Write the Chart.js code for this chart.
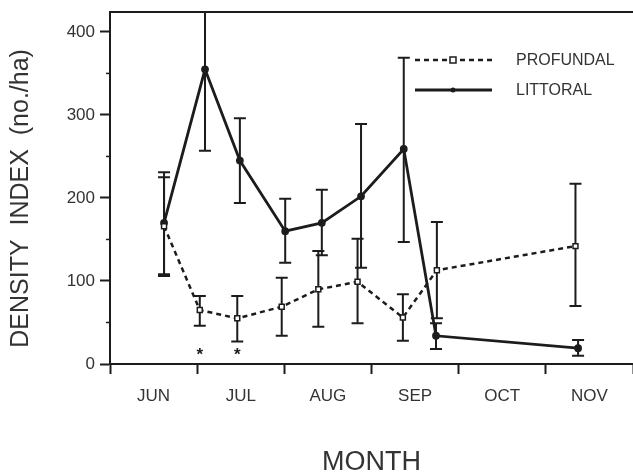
<!DOCTYPE html>
<html>
<head>
<meta charset="utf-8">
<style>
  html, body { margin: 0; padding: 0; background: #fff; overflow: hidden; }
  canvas { display: block; }
</style>
</head>
<body>
<canvas id="densityChart" width="633" height="473"></canvas>
<script src="https://cdn.jsdelivr.net/npm/chart.js@4/dist/chart.umd.min.js"></script>
<script>
// month bands on the x axis (x = months since 1 June)
var months = ['JUN', 'JUL', 'AUG', 'SEP', 'OCT', 'NOV'];
var yMajor = [0, 100, 200, 300, 400];
var yMinor = [50, 150, 250, 350];

// PROFUNDAL
var profX  = [0.62, 1.03, 1.46, 1.97, 2.39, 2.84, 3.36, 3.75, 5.34];
var profY  = [166, 65, 55, 69, 90, 99, 56, 113, 142];
var profLo = [106, 46, 27, 34, 45, 49, 28, 55, 70];
var profHi = [225, 82, 82, 104, 136, 151, 84, 171, 217];

// LITTORAL
var litX  = [0.62, 1.09, 1.49, 2.01, 2.43, 2.88, 3.37, 3.74, 5.37];
var litY  = [170, 355, 245, 160, 170, 202, 259, 34, 19];
var litLo = [108, 257, 194, 122, 131, 116, 147, 18, 10];
var litHi = [231, 453, 296, 199, 210, 289, 369, 49, 29];

// samples marked with * (significant difference)
var starred = [false, true, true, false, false, false, false, false, false];

var ink = '#1c1c1c';
var textCol = '#333';
var fontFam = '"Liberation Sans", Arial, sans-serif';

function points(xs, ys) {
    return xs.map(function (x, i) { return { x: x, y: ys[i] }; });
}

var extras = {
    id: 'extras',
    beforeDatasetsDraw: function (chart) {
        var ctx = chart.ctx, a = chart.chartArea;
        var xs = chart.scales.x, ys = chart.scales.y;
        ctx.save();
        // top frame line
        ctx.strokeStyle = ink;
        ctx.lineWidth = 2;
        ctx.beginPath();
        ctx.moveTo(a.left, a.top);
        ctx.lineTo(a.right, a.top);
        ctx.stroke();
        // minor y ticks
        ctx.lineWidth = 1.5;
        yMinor.forEach(function (v) {
            var y = ys.getPixelForValue(v);
            ctx.beginPath();
            ctx.moveTo(a.left - 4, y);
            ctx.lineTo(a.left, y);
            ctx.stroke();
        });
        // error bars
        ctx.beginPath();
        ctx.rect(a.left, a.top, a.right - a.left, a.bottom - a.top);
        ctx.clip();
        ctx.lineWidth = 2;
        chart.data.datasets.forEach(function (ds) {
            ds.errLo.forEach(function (lo, i) {
                var x = xs.getPixelForValue(ds.data[i].x);
                var y1 = ys.getPixelForValue(lo);
                var y2 = ys.getPixelForValue(ds.errHi[i]);
                ctx.beginPath();
                ctx.moveTo(x, y1); ctx.lineTo(x, y2);
                ctx.moveTo(x - 6, y1); ctx.lineTo(x + 6, y1);
                ctx.moveTo(x - 6, y2); ctx.lineTo(x + 6, y2);
                ctx.stroke();
            });
        });
        ctx.restore();
    },
    afterDatasetsDraw: function (chart) {
        var ctx = chart.ctx;
        var xs = chart.scales.x, ys = chart.scales.y;
        ctx.save();
        // asterisks
        ctx.fillStyle = ink;
        ctx.font = 'bold 17px ' + fontFam;
        ctx.textAlign = 'center';
        ctx.textBaseline = 'middle';
        starred.forEach(function (s, i) {
            if (!s) return;
            ctx.fillText('*', xs.getPixelForValue(profX[i]), ys.getPixelForValue(11));
        });
        // legend
        var rows = [{ y: 60, ds: chart.data.datasets[0] }, { y: 90, ds: chart.data.datasets[1] }];
        rows.forEach(function (r) {
            ctx.strokeStyle = ink;
            ctx.lineWidth = r.ds.borderWidth;
            ctx.setLineDash(r.ds.borderDash || []);
            ctx.beginPath();
            ctx.moveTo(415, r.y);
            ctx.lineTo(492, r.y);
            ctx.stroke();
            ctx.setLineDash([]);
            if (r.ds.pointStyle === 'rect') {
                ctx.fillStyle = '#fff';
                ctx.lineWidth = 1.5;
                ctx.fillRect(450, r.y - 3, 6, 6);
                ctx.strokeRect(450, r.y - 3, 6, 6);
            } else {
                ctx.fillStyle = ink;
                ctx.beginPath();
                ctx.arc(453, r.y, 2.5, 0, Math.PI * 2);
                ctx.fill();
            }
            ctx.fillStyle = textCol;
            ctx.font = '16px ' + fontFam;
            ctx.textAlign = 'left';
            ctx.textBaseline = 'middle';
            ctx.fillText(r.ds.label, 516, r.y + 1);
        });
        ctx.restore();
    }
};

var chart = new Chart(document.getElementById('densityChart'), {
    type: 'line',
    data: {
        datasets: [{
            label: 'PROFUNDAL',
            data: points(profX, profY),
            errLo: profLo,
            errHi: profHi,
            borderColor: ink,
            borderWidth: 2.5,
            borderDash: [5, 4],
            pointStyle: 'rect',
            pointRadius: 3.5,
            pointBorderWidth: 1.5,
            pointBackgroundColor: '#fff',
            pointBorderColor: ink,
            tension: 0
        }, {
            label: 'LITTORAL',
            data: points(litX, litY),
            errLo: litLo,
            errHi: litHi,
            borderColor: ink,
            borderWidth: 2.8,
            pointStyle: 'circle',
            pointRadius: 2.5,
            pointBackgroundColor: ink,
            pointBorderColor: ink,
            tension: 0
        }]
    },
    options: {
        responsive: false,
        animation: false,
        layout: { autoPadding: false, padding: { top: 12, right: 0, left: 0, bottom: 0 } },
        plugins: {
            legend: { display: false },
            tooltip: { enabled: false }
        },
        scales: {
            x: {
                type: 'linear',
                min: 0,
                max: months.length,
                afterBuildTicks: function (scale) {
                    var t = [];
                    for (var i = 0; i <= months.length; i++) {
                        t.push({ value: i });
                        if (i < months.length) t.push({ value: i + 0.5 });
                    }
                    scale.ticks = t;
                },
                afterFit: function (scale) {
                    scale.height = 109;
                    scale.paddingLeft = 0;
                    scale.paddingRight = 0;
                },
                ticks: {
                    autoSkip: false,
                    maxRotation: 0,
                    padding: 12,
                    color: textCol,
                    font: { family: fontFam, size: 17 },
                    callback: function (v) {
                        return v % 1 ? months[Math.floor(v)] : '';
                    }
                },
                grid: {
                    drawOnChartArea: false,
                    tickLength: 10,
                    tickWidth: 2,
                    tickColor: function (c) { return c.tick && c.tick.value % 1 ? 'rgba(0,0,0,0)' : ink; }
                },
                border: { color: ink, width: 2 },
                title: {
                    display: true,
                    text: 'MONTH',
                    color: textCol,
                    padding: 0,
                    font: { family: fontFam, size: 27, lineHeight: 0.8 }
                }
            },
            y: {
                min: 0,
                max: 424,
                afterBuildTicks: function (scale) {
                    scale.ticks = yMajor.map(function (v) { return { value: v }; });
                },
                afterFit: function (scale) {
                    scale.width = 110;
                    scale.paddingTop = 0;
                    scale.paddingBottom = 0;
                },
                ticks: {
                    padding: 5,
                    color: textCol,
                    font: { family: fontFam, size: 17 }
                },
                grid: {
                    drawOnChartArea: false,
                    tickLength: 10,
                    tickWidth: 2,
                    tickColor: ink
                },
                border: { color: ink, width: 2 },
                title: {
                    display: true,
                    text: 'DENSITY  INDEX  (no./ha)   ',
                    color: textCol,
                    padding: { top: 9 },
                    font: { family: fontFam, size: 25, lineHeight: 1 }
                }
            }
        }
    },
    plugins: [extras]
});
</script>
</body>
</html>
